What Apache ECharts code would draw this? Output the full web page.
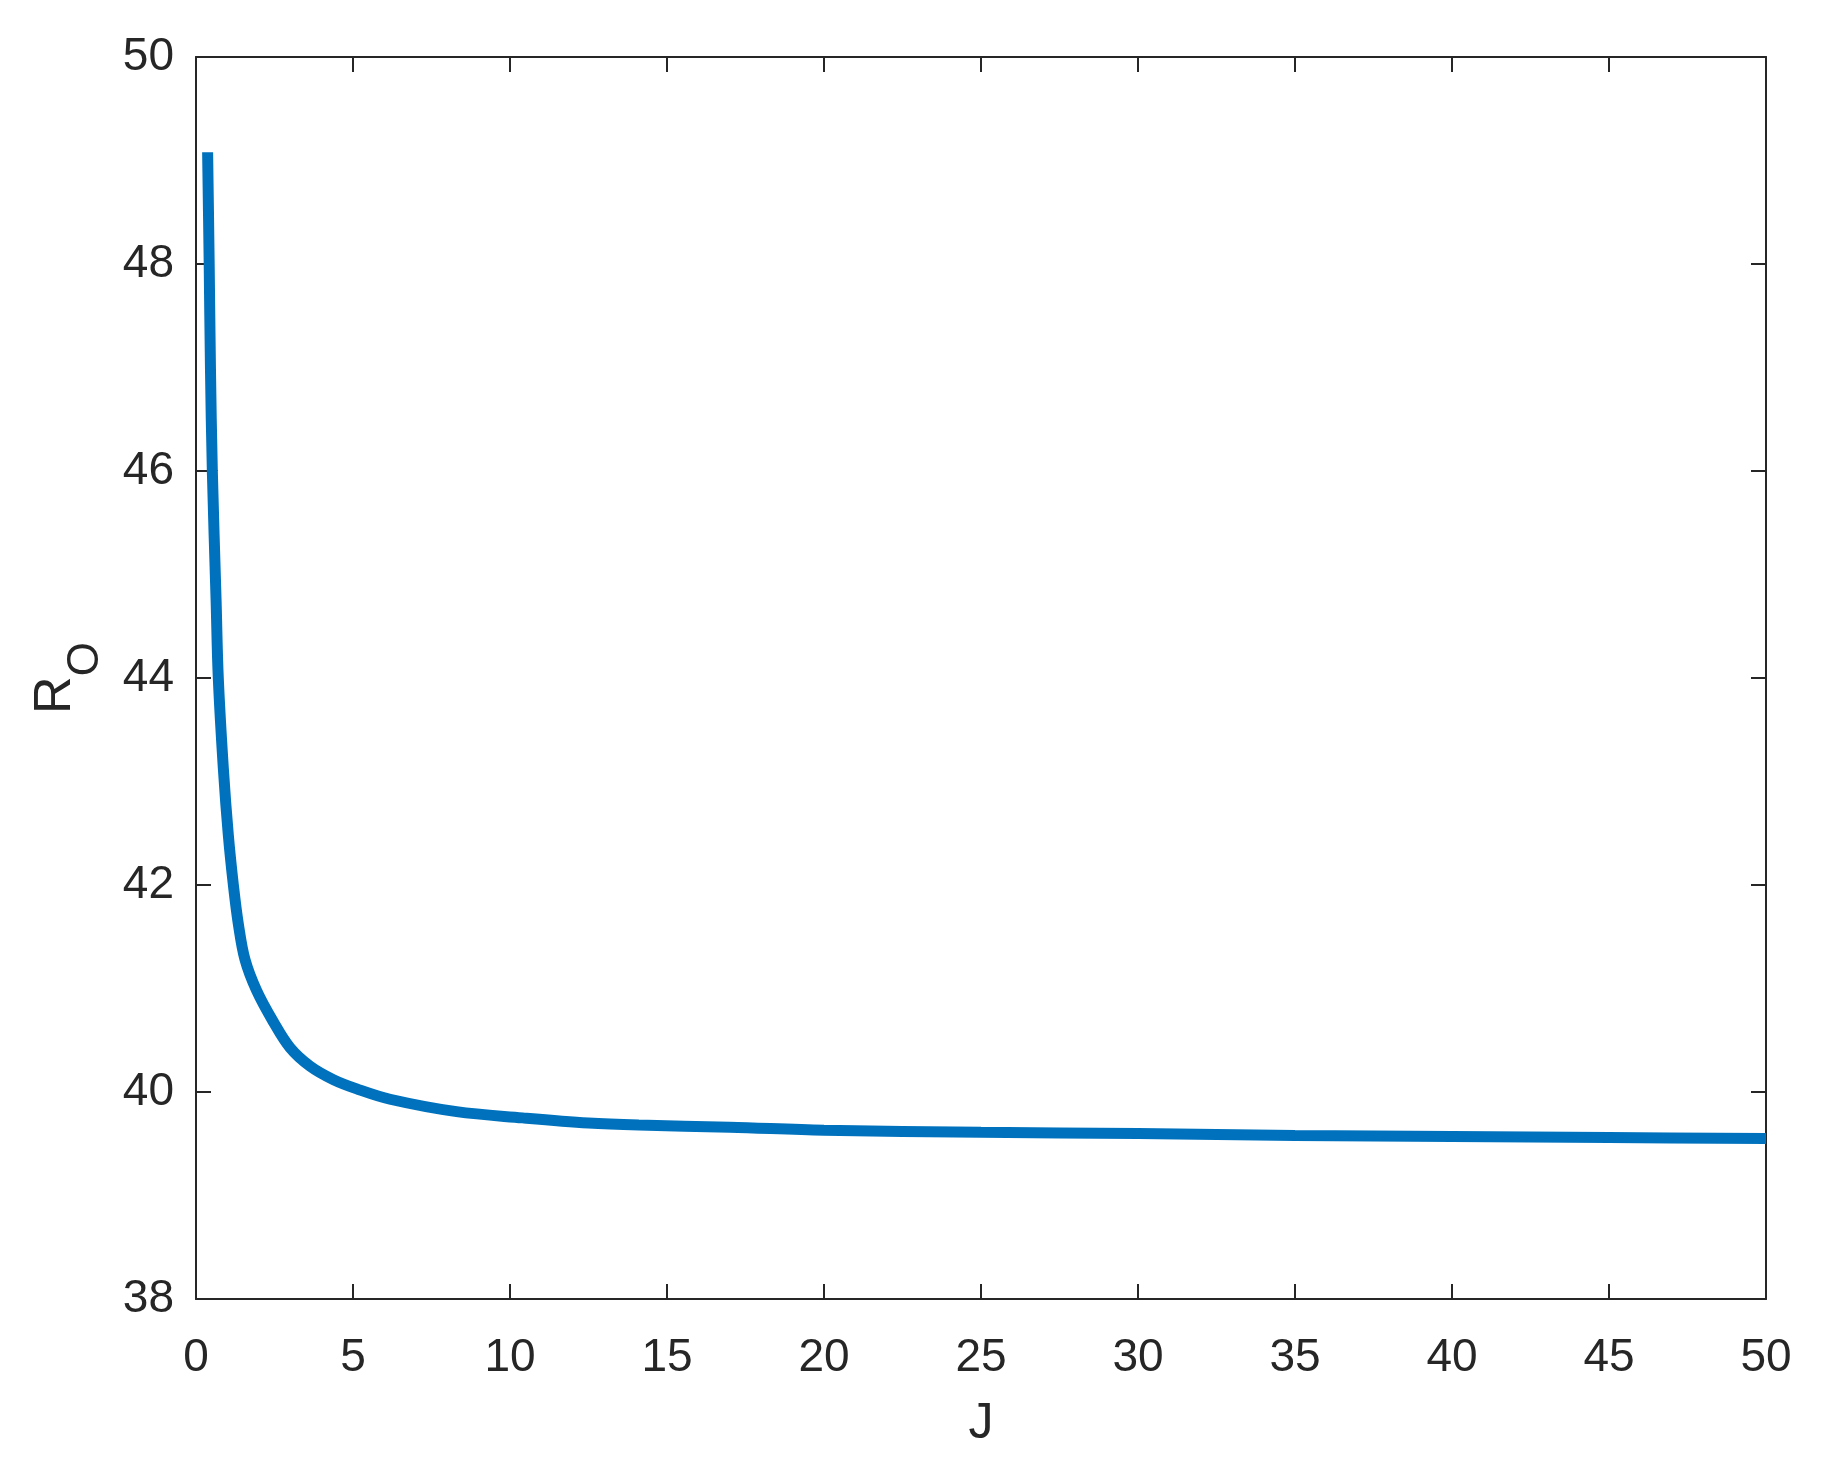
<!DOCTYPE html>
<html>
<head>
<meta charset="utf-8">
<script src="https://cdn.jsdelivr.net/npm/echarts@6/dist/echarts.min.js"></script>
<style>
  html, body { margin: 0; padding: 0; background: #fff; }
  #main { width: 1827px; height: 1479px; }
</style>
</head>
<body>
<div id="main"></div>
<script>
// values
const jValues = [0.37, 0.42, 0.46, 0.52, 0.64, 0.71, 0.87, 1.03, 1.19, 1.35, 1.56, 1.93, 2.46, 2.99, 3.63, 4.37, 5.12, 6.18, 8.3, 10.4, 12.5, 14.1, 17, 20, 25, 30, 35, 40, 45, 50];
const rValues = [49.08, 48.0, 47.0, 46.0, 44.75, 44.0, 43.13, 42.48, 42.0, 41.62, 41.28, 40.98, 40.68, 40.43, 40.25, 40.12, 40.03, 39.93, 39.81, 39.75, 39.70, 39.68, 39.66, 39.63, 39.61, 39.60, 39.58, 39.57, 39.56, 39.55];
const xTicks = [0, 5, 10, 15, 20, 25, 30, 35, 40, 45, 50];
const yTicks = [38, 40, 42, 44, 46, 48, 50];

const ink = '#262626';
const font = 'Liberation Sans, Arial, Helvetica, sans-serif';

let myChart = echarts.init(document.getElementById('main'));

let points = jValues.map(function (j, i) { return [j, rValues[i]]; });

function boxAxis(opts) {
    // axis line + inward ticks, shared by all four sides
    return Object.assign({
        type: 'value',
        axisLine: { show: true, onZero: false, lineStyle: { color: ink, width: 2 } },
        axisTick: { show: true, inside: true, length: 15, lineStyle: { color: ink, width: 2 } },
        splitLine: { show: false }
    }, opts);
}

myChart.setOption({
    backgroundColor: '#fff',
    animation: false,
    grid: { left: 196, right: 61, top: 57, bottom: 180, containLabel: false, outerBoundsMode: 'none' },
    xAxis: [
        boxAxis({
            position: 'bottom',
            min: xTicks[0], max: xTicks[xTicks.length - 1], interval: 5,
            name: 'J',
            nameLocation: 'middle',
            nameGap: 100,
            nameTextStyle: { color: ink, fontSize: 50, fontFamily: font },
            axisLabel: { color: ink, fontSize: 46, fontFamily: font, margin: 36 }
        }),
        boxAxis({
            position: 'top',
            min: xTicks[0], max: xTicks[xTicks.length - 1], interval: 5,
            axisLabel: { show: false }
        })
    ],
    yAxis: [
        boxAxis({
            position: 'left',
            min: yTicks[0], max: yTicks[yTicks.length - 1], interval: 2,
            name: '{a|R}{b|O}',
            nameLocation: 'middle',
            nameGap: 88,
            nameRotate: 90,
            nameTextStyle: {
                color: ink,
                fontFamily: font,
                rich: {
                    a: { fontSize: 52, color: ink, fontFamily: font },
                    b: { fontSize: 44, color: ink, fontFamily: font, padding: [60, 0, 0, 0] }
                }
            },
            axisLabel: { color: ink, fontSize: 46, fontFamily: font, margin: 22 }
        }),
        boxAxis({
            position: 'right',
            min: yTicks[0], max: yTicks[yTicks.length - 1], interval: 2,
            axisLabel: { show: false }
        })
    ],
    series: [
        {
            type: 'line',
            data: points,
            showSymbol: false,
            smooth: 0.35,
            lineStyle: { color: '#0072BD', width: 11, cap: 'butt' }
        }
    ]
});
</script>
</body>
</html>
